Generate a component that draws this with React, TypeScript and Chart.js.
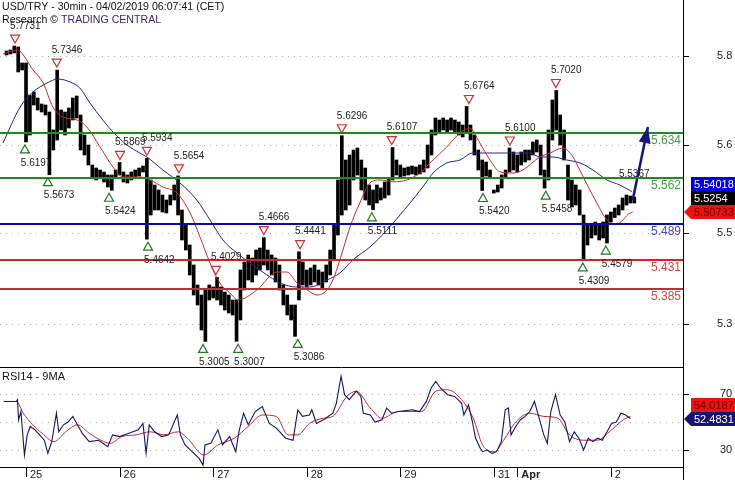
import React, { useEffect, useRef } from 'react';
import { Chart, registerables } from 'chart.js';

Chart.register(...registerables);

const FONT = '"Liberation Sans", Arial, sans-serif';
Chart.defaults.font.family = FONT;

// x unit: trading hours since 25 Mar 2019 00:00 (weekend removed)
const X_MIN = -6.67;
const X_MAX = 168.5;

// hourly price ranges [low, high], first bar at hour -5
const FIRST_HOUR = -5;
const priceRanges: [number, number][] = [
  [5.7588, 5.7652], [5.7604, 5.7668], [5.762, 5.7731], [5.7316, 5.7716], [5.7348, 5.746],
  [5.6197, 5.746], [5.6308, 5.6948], [5.6788, 5.6996], [5.6708, 5.69], [5.6676, 5.6804],
  [5.6628, 5.6788], [5.5673, 5.6676], [5.6068, 5.6388], [5.6228, 5.7346], [5.6388, 5.6708],
  [5.6308, 5.6676], [5.642, 5.674], [5.6548, 5.69], [5.658, 5.6932], [5.6068, 5.6628],
  [5.5988, 5.6308], [5.5828, 5.6148], [5.562, 5.5828], [5.5588, 5.578], [5.562, 5.5748],
  [5.5556, 5.5716], [5.5476, 5.5668], [5.5424, 5.5668], [5.5636, 5.5748], [5.5668, 5.5869],
  [5.5556, 5.5716], [5.554, 5.5668], [5.5588, 5.5716], [5.562, 5.5748], [5.5652, 5.578],
  [5.5716, 5.5812], [5.4642, 5.5934], [5.5028, 5.5588], [5.5108, 5.5508], [5.5108, 5.5428],
  [5.5076, 5.5348], [5.506, 5.5268], [5.5188, 5.5348], [5.5268, 5.5508], [5.5028, 5.5654],
  [5.4628, 5.5108], [5.4468, 5.4868], [5.4068, 5.4548], [5.3748, 5.4228], [5.3588, 5.3908],
  [5.3188, 5.3748], [5.3005, 5.3828], [5.3668, 5.3908], [5.37, 5.3876], [5.3668, 5.4029],
  [5.3588, 5.3876], [5.3508, 5.3796], [5.346, 5.3748], [5.3428, 5.3668], [5.3007, 5.3668],
  [5.3348, 5.4148], [5.3828, 5.4276], [5.3988, 5.4388], [5.3956, 5.434], [5.4068, 5.4468],
  [5.4148, 5.45], [5.4228, 5.4666], [5.4148, 5.4468], [5.4068, 5.4388], [5.3956, 5.434],
  [5.3828, 5.4228], [5.3588, 5.3908], [5.3428, 5.3748], [5.3348, 5.3588], [5.3086, 5.3588],
  [5.3668, 5.4441], [5.3908, 5.4276], [5.3876, 5.4148], [5.3908, 5.418], [5.3956, 5.4228],
  [5.3908, 5.4148], [5.386, 5.4116], [5.3956, 5.4228], [5.4068, 5.4468], [5.4308, 5.4868],
  [5.4708, 5.5588], [5.5028, 5.6296], [5.5108, 5.5908], [5.5188, 5.5988], [5.5588, 5.6068],
  [5.5668, 5.61], [5.5428, 5.5908], [5.5268, 5.578], [5.5188, 5.5508], [5.5111, 5.5428],
  [5.522, 5.5508], [5.5268, 5.546], [5.53, 5.5556], [5.5348, 5.562], [5.5588, 5.6107],
  [5.5668, 5.5908], [5.5636, 5.5828], [5.5652, 5.578], [5.5668, 5.5796], [5.5684, 5.5812],
  [5.5668, 5.5796], [5.5684, 5.5828], [5.5716, 5.5908], [5.578, 5.6148], [5.5988, 5.6388],
  [5.6308, 5.658], [5.6356, 5.6548], [5.6388, 5.658], [5.6356, 5.6548], [5.6388, 5.658],
  [5.634, 5.6548], [5.6308, 5.6516], [5.6276, 5.6468], [5.6356, 5.6764], [5.6228, 5.6468],
  [5.5988, 5.6308], [5.5748, 5.6068], [5.542, 5.5908], [5.5652, 5.5876], [5.5636, 5.5748],
  [5.538, 5.5428], [5.5396, 5.5508], [5.546, 5.5668], [5.562, 5.5748], [5.5716, 5.61],
  [5.5748, 5.6036], [5.5716, 5.5988], [5.5828, 5.6036], [5.5876, 5.6068], [5.5908, 5.6068],
  [5.5988, 5.6196], [5.6036, 5.6228], [5.5668, 5.6148], [5.5458, 5.5748], [5.5588, 5.6388],
  [5.6228, 5.6868], [5.6388, 5.702], [5.6148, 5.6628], [5.5908, 5.6388], [5.5268, 5.5828],
  [5.5156, 5.5588], [5.5188, 5.5508], [5.5028, 5.5428], [5.4309, 5.5028], [5.4548, 5.4868],
  [5.466, 5.4868], [5.4708, 5.4916], [5.4628, 5.4868], [5.466, 5.4916], [5.4579, 5.5028],
  [5.4916, 5.5076], [5.4988, 5.514], [5.5028, 5.5188], [5.5108, 5.53], [5.5188, 5.5348],
  [5.522, 5.5332], [5.522, 5.5316],
];

// moving averages [hour, price]
const redMa: [number, number][] = [
  [-5.9, 5.7604], [-2.3, 5.7668], [1.8, 5.7348], [4.4, 5.714], [6.9, 5.6756], [9.5, 5.6596],
  [13.1, 5.6548], [15.6, 5.6436], [19, 5.6116], [22.3, 5.5796], [24.9, 5.5636], [29.2, 5.5636],
  [31.8, 5.5588], [35.1, 5.5476], [38.7, 5.538], [42.1, 5.506], [44.6, 5.468], [47.2, 5.426],
  [49.7, 5.394], [52.3, 5.378], [54.4, 5.3668], [59.2, 5.3828], [64.4, 5.4116], [66.9, 5.4116],
  [69.5, 5.394], [72.1, 5.3828], [74.6, 5.3748], [77.2, 5.3828], [78.7, 5.3988], [80.5, 5.4308],
  [83.1, 5.4836], [85.6, 5.522], [88.2, 5.554], [90.8, 5.5588], [94.1, 5.556], [97.7, 5.5588],
  [101, 5.57], [104.4, 5.5908], [107.9, 5.6116], [111.3, 5.634], [113.8, 5.642], [116.4, 5.618],
  [119, 5.5908], [121.5, 5.572], [124.9, 5.57], [127.4, 5.5748], [131.8, 5.5956], [134.4, 5.602],
  [137.7, 5.61], [140.3, 5.5956], [142, 5.5748], [146.4, 5.522], [149, 5.4948], [151.5, 5.4884],
  [154.9, 5.506], [155.6, 5.50733],
];
const blueMa: [number, number][] = [
  [-5.9, 5.618], [-1.5, 5.6756], [1.8, 5.6996], [5.4, 5.714], [8.2, 5.7204], [11.3, 5.7156],
  [13.8, 5.706], [16.4, 5.682], [19.7, 5.6548], [22.3, 5.6356], [25.9, 5.6148], [29.2, 5.602],
  [31, 5.5956], [35.1, 5.5748], [39.5, 5.554], [43.8, 5.5268], [47.2, 5.4948], [50.5, 5.4628],
  [54.1, 5.442], [57.4, 5.426], [62.6, 5.4036], [65.1, 5.394], [69.5, 5.3876], [72.8, 5.3876],
  [77.2, 5.3988], [80.5, 5.41], [83.8, 5.4308], [88.2, 5.4516], [92.6, 5.4788], [95.9, 5.5028],
  [97.7, 5.516], [101.8, 5.548], [104.4, 5.57], [107.9, 5.586], [111.3, 5.5908], [114.6, 5.602],
  [119, 5.602], [123.3, 5.602], [129.2, 5.602], [131.8, 5.5956], [135.1, 5.5956], [138.7, 5.5908],
  [142.1, 5.586], [145.4, 5.5748], [149, 5.5588], [152.3, 5.5508], [155.4, 5.54018],
];

// forecast arrow [hour, price]
const arrowPath: [number, number][] = [[155.6, 5.5268], [159.5, 5.6436]];

// support / resistance levels
const levelValues = [5.634, 5.562, 5.489, 5.431, 5.385];
const levelLineColors = ['#1f8a1f', '#1f8a1f', '#0a0aa6', '#d42424', '#b43434'];
const levelTextColors = ['#4a9c4a', '#4a9c4a', '#4848c4', '#d04444', '#cc4a4a'];

// swing highs / lows [hour, price]
const swingHighs: [number, number][] = [
  [-2.8, 5.7731], [7.9, 5.7346], [24.1, 5.5869], [31, 5.5934], [39.2, 5.5654], [48.7, 5.4029],
  [61, 5.4666], [70.3, 5.4441], [81, 5.6296], [93.8, 5.6107], [113.6, 5.6764], [124.1, 5.61],
  [135.9, 5.702],
];
const swingLows: [number, number][] = [
  [-0.3, 5.6197], [5.6, 5.5673], [21.3, 5.5424], [31.3, 5.4642], [45.4, 5.3005], [54.4, 5.3007],
  [69.7, 5.3086], [88.7, 5.5111], [117.2, 5.542], [133.3, 5.5458], [142.8, 5.4309], [148.7, 5.4579],
];
const openHigh: [number, number] = [153.1, 5.5367];

const priceTicks = [5.3284, 5.474, 5.6148, 5.7572];
const PRICE_MIN = 5.2596;
const PRICE_MAX = 5.8468;

const dayTicks = [0, 24, 48, 72, 96, 120, 126, 150];
const dayLabels = ['25', '26', '27', '28', '29', '31', 'Apr', '2'];

const lastBlueMa = 5.54018;
const lastClose = 5.5254;
const lastRedMa = 5.50733;

// RSI14 [hour, value]
const rsiLine: [number, number][] = [
  [-5.7, 64.7], [-2.5, 64.7], [-2.2, 66], [-1.9, 51.6], [-1.3, 57.5], [-0.4, 26.4], [0.3, 40.8],
  [1.1, 46.8], [2.3, 44.4], [3.5, 40.8], [4.7, 37], [5.6, 27.6], [6.6, 36], [7.8, 56.3], [8.4, 43],
  [9.6, 48], [10.8, 50], [12, 54], [13.2, 48], [14.4, 42], [16.2, 36], [18.6, 37], [21, 32.4],
  [22.2, 40.8], [24, 39.6], [26.4, 42], [28.8, 44.4], [30, 49], [30.8, 27.6], [31.6, 48], [33, 43],
  [34.8, 39.6], [36.6, 40.8], [38.8, 55], [39.6, 40.8], [40.8, 33.6], [42.6, 28.8], [44.4, 24],
  [45.4, 19.2], [45.9, 33.6], [47.4, 34.8], [49.2, 44.4], [50.4, 33.6], [52.2, 39.6], [53.8, 28.8],
  [54.6, 43], [55.8, 56.3], [57, 48], [58.8, 57.5], [60.6, 61], [62.4, 49], [64.2, 45.6],
  [66.6, 38.4], [68.5, 37], [69.7, 58.7], [70.9, 54], [72.7, 55], [73.3, 58.7], [74.5, 49],
  [76.3, 51.6], [78.7, 56.3], [79.6, 63.5], [80.8, 82.7], [81.7, 69.5], [82.9, 66], [84.7, 72],
  [85.9, 68.3], [86.5, 56.3], [88.3, 55], [89.5, 50], [91.3, 51.6], [92.5, 60], [93.7, 56.3],
  [95.5, 57.5], [99.1, 58.7], [100.9, 57.5], [102.7, 64.7], [103.9, 74.3], [105.1, 79],
  [106.3, 74.3], [108.1, 69.5], [109.9, 68.3], [111.7, 63.5], [112.3, 55], [113.5, 62.3],
  [114.5, 50], [115.3, 38.4], [116.5, 31.2], [117.1, 28.8], [118.3, 30], [119.5, 27.6],
  [120.7, 28.8], [121.9, 36], [122.9, 58.7], [123.7, 60], [124.4, 40.8], [125.6, 46.8],
  [126.8, 51.6], [128, 54], [129.2, 57.5], [130.4, 64.7], [131.6, 52.7], [132.8, 40.8],
  [133.7, 34.8], [134.6, 57.5], [135.8, 69.5], [137, 55], [138.2, 50], [139.4, 36], [140.6, 43],
  [141.8, 38.4], [143, 30], [144.2, 38.4], [145.4, 36], [146.6, 38.4], [147.8, 37], [149, 43],
  [150.2, 49], [151.4, 50], [152.6, 56.3], [153.8, 55], [155, 52.4831],
];
// 9-period MA of RSI [hour, value]
const rsiMa: [number, number][] = [
  [-5.7, 64.7], [-2.5, 64.7], [-0.7, 56.3], [1.7, 48], [4.1, 42], [7.2, 36], [10.2, 43], [13.2, 48],
  [16.2, 42], [19.2, 37], [21.6, 34.8], [24.6, 39.6], [28.2, 40.8], [31.8, 43], [35.4, 40.8],
  [39, 43], [41.4, 38.4], [45.6, 26.4], [49.2, 33.6], [53.4, 38.4], [57, 46.8], [60.6, 55],
  [64.2, 54], [67.2, 40.8], [69.7, 40.8], [72.7, 49], [76.3, 52.7], [78.7, 54], [82.3, 68.3],
  [84.7, 72], [88.3, 60], [91.3, 52.7], [95.5, 57.5], [101.5, 57.5], [105.1, 72], [108.1, 73],
  [111.7, 66], [114.7, 52.7], [117.1, 33.6], [120.1, 28.8], [122.5, 37], [125.6, 50], [129.2, 56.3],
  [132.8, 54], [136.4, 52.7], [139.4, 40.8], [143, 37], [146.6, 37], [149.6, 43], [153.2, 51.6],
  [155, 54.0187],
];
const rsiTicks = [30, 50, 70];
const RSI_MIN = 17.86;
const RSI_MAX = 89.29;
const lastRsi = 52.4831;
const lastRsiMa = 54.0187;

const AXIS_X = 683;

function valueBox(ctx: any, cy: number, bg: string, fg: string, text: string, arrow: boolean) {
  ctx.save();
  ctx.fillStyle = bg;
  const top = Math.round(cy - 7);
  ctx.fillRect(691, top, 44, 14);
  if (arrow) {
    ctx.beginPath();
    ctx.moveTo(684, top + 7);
    ctx.lineTo(691, top);
    ctx.lineTo(691, top + 14);
    ctx.closePath();
    ctx.fill();
  }
  ctx.fillStyle = fg;
  ctx.font = `11px ${FONT}`;
  ctx.textAlign = 'left';
  ctx.textBaseline = 'middle';
  ctx.fillText(text, 694, top + 7.5);
  ctx.restore();
}

function dotted(ctx: any, x0: number, x1: number, y: number) {
  ctx.save();
  ctx.strokeStyle = '#a8a8a8';
  ctx.lineWidth = 1;
  ctx.setLineDash([1, 5]);
  ctx.beginPath();
  ctx.moveTo(x0, Math.round(y) + 0.5);
  ctx.lineTo(x1, Math.round(y) + 0.5);
  ctx.stroke();
  ctx.restore();
}

function noScalePadding(s: any) {
  s.paddingTop = 0;
  s.paddingBottom = 0;
  s.paddingLeft = 0;
  s.paddingRight = 0;
}

const mainDecor = {
  id: 'mainDecor',
  beforeDatasetsDraw(chart: any) {
    const { ctx, chartArea: a, scales } = chart;
    for (const v of priceTicks) dotted(ctx, a.left, a.right, scales.y.getPixelForValue(v));
  },
  afterDatasetsDraw(chart: any) {
    const { ctx, chartArea: a, scales } = chart;
    const xs = scales.x;
    const ys = scales.y;
    ctx.save();
    // levels
    levelValues.forEach((v, i) => {
      const py = Math.round(ys.getPixelForValue(v));
      ctx.strokeStyle = levelLineColors[i];
      ctx.lineWidth = 2;
      ctx.beginPath();
      ctx.moveTo(a.left, py);
      ctx.lineTo(a.right, py);
      ctx.stroke();
      ctx.fillStyle = levelTextColors[i];
      ctx.font = `12px ${FONT}`;
      ctx.textAlign = 'right';
      ctx.textBaseline = 'middle';
      ctx.fillText(v.toFixed(3), 681, py + 8);
    });
    // arrow head
    const x0 = xs.getPixelForValue(arrowPath[0][0]);
    const y0 = ys.getPixelForValue(arrowPath[0][1]);
    const x1 = xs.getPixelForValue(arrowPath[1][0]);
    const y1 = ys.getPixelForValue(arrowPath[1][1]);
    const len = Math.hypot(x1 - x0, y1 - y0);
    const ux = (x1 - x0) / len;
    const uy = (y1 - y0) / len;
    ctx.fillStyle = '#16167a';
    ctx.beginPath();
    ctx.moveTo(x1, y1);
    ctx.lineTo(x1 - ux * 16 - uy * 6, y1 - uy * 16 + ux * 6);
    ctx.lineTo(x1 - ux * 16 + uy * 6, y1 - uy * 16 - ux * 6);
    ctx.closePath();
    ctx.fill();
    // swing markers
    ctx.font = `10px ${FONT}`;
    ctx.textAlign = 'left';
    ctx.textBaseline = 'middle';
    ctx.lineWidth = 1.2;
    for (const [t, v] of swingHighs) {
      const px = xs.getPixelForValue(t);
      const py = ys.getPixelForValue(v);
      ctx.strokeStyle = '#cc3030';
      ctx.beginPath();
      ctx.moveTo(px - 4.5, py - 11);
      ctx.lineTo(px + 4.5, py - 11);
      ctx.lineTo(px, py - 3);
      ctx.closePath();
      ctx.stroke();
      ctx.fillStyle = '#222';
      ctx.fillText(v.toFixed(4), px - 5, py - 20);
    }
    for (const [t, v] of swingLows) {
      const px = xs.getPixelForValue(t);
      const py = ys.getPixelForValue(v);
      ctx.strokeStyle = '#1f7a1f';
      ctx.beginPath();
      ctx.moveTo(px - 4.5, py + 11);
      ctx.lineTo(px + 4.5, py + 11);
      ctx.lineTo(px, py + 3);
      ctx.closePath();
      ctx.stroke();
      ctx.fillStyle = '#222';
      ctx.fillText(v.toFixed(4), px - 4, py + 21);
    }
    {
      const px = xs.getPixelForValue(openHigh[0]);
      const py = ys.getPixelForValue(openHigh[1]);
      ctx.fillStyle = '#222';
      ctx.fillText(openHigh[1].toFixed(4), px - 4, py - 20);
    }
    ctx.restore();
  },
  afterDraw(chart: any) {
    const { ctx, scales } = chart;
    const ys = scales.y;
    ctx.save();
    // axis line + tick marks
    ctx.strokeStyle = '#000';
    ctx.lineWidth = 1;
    ctx.beginPath();
    ctx.moveTo(AXIS_X + 0.5, 0);
    ctx.lineTo(AXIS_X + 0.5, chart.height);
    for (const v of priceTicks) {
      const py = Math.round(ys.getPixelForValue(v)) + 0.5;
      ctx.moveTo(AXIS_X, py);
      ctx.lineTo(AXIS_X + 6, py);
    }
    ctx.stroke();
    // title
    ctx.textAlign = 'left';
    ctx.textBaseline = 'middle';
    ctx.font = `10.6px ${FONT}`;
    ctx.fillStyle = '#111';
    ctx.fillText('USD/TRY - 30min - 04/02/2019 06:07:41 (CET)', 2, 7);
    const lead = 'Research © ';
    ctx.fillText(lead, 2, 20);
    ctx.fillStyle = '#3d2868';
    ctx.fillText('TRADING CENTRAL', 2 + ctx.measureText(lead).width, 20);
    ctx.restore();
    // value boxes
    const redY = ys.getPixelForValue(lastRedMa);
    valueBox(ctx, redY, '#ee1111', '#700000', String(lastRedMa), true);
    valueBox(ctx, redY - 14, '#000000', '#ffffff', String(lastClose), false);
    valueBox(ctx, redY - 28, '#0000dd', '#ffffff', String(lastBlueMa), false);
  },
};

const rsiDecor = {
  id: 'rsiDecor',
  beforeDatasetsDraw(chart: any) {
    const { ctx, chartArea: a, scales } = chart;
    for (const v of rsiTicks) dotted(ctx, a.left, a.right, scales.y.getPixelForValue(v));
  },
  afterDraw(chart: any) {
    const { ctx, chartArea: a, scales } = chart;
    const ys = scales.y;
    const xs = scales.x;
    ctx.save();
    ctx.strokeStyle = '#000';
    ctx.lineWidth = 1;
    ctx.beginPath();
    ctx.moveTo(0, 0.5);
    ctx.lineTo(AXIS_X, 0.5);
    ctx.moveTo(0, Math.round(a.bottom) + 0.5);
    ctx.lineTo(AXIS_X, Math.round(a.bottom) + 0.5);
    ctx.moveTo(AXIS_X + 0.5, 0);
    ctx.lineTo(AXIS_X + 0.5, chart.height);
    for (const v of [30, 70]) {
      const py = Math.round(ys.getPixelForValue(v)) + 0.5;
      ctx.moveTo(AXIS_X, py);
      ctx.lineTo(AXIS_X + 6, py);
    }
    for (const t of dayTicks) {
      const px = Math.round(xs.getPixelForValue(t)) + 0.5;
      ctx.moveTo(px, a.bottom);
      ctx.lineTo(px, a.bottom + 10);
    }
    ctx.stroke();
    ctx.fillStyle = '#111';
    ctx.font = `11px ${FONT}`;
    ctx.textAlign = 'left';
    ctx.textBaseline = 'middle';
    ctx.fillText('RSI14 - 9MA', 2, 10);
    ctx.restore();
    const blueY = ys.getPixelForValue(lastRsi);
    valueBox(ctx, blueY, '#141470', '#ffffff', String(lastRsi), true);
    valueBox(ctx, blueY - 14, '#ee1111', '#700000', String(lastRsiMa), false);
  },
};

export default function App() {
  const mainRef = useRef<HTMLCanvasElement>(null);
  const rsiRef = useRef<HTMLCanvasElement>(null);

  useEffect(() => {
    const commonX = {
      type: 'linear' as const,
      min: X_MIN,
      max: X_MAX,
      offset: false,
      grid: { display: false, offset: false, drawTicks: false },
      border: { display: false },
    };

    const main = new Chart(mainRef.current as HTMLCanvasElement, {
      type: 'bar',
      data: {
        datasets: [
          {
            type: 'line',
            data: redMa.map(([x, y]) => ({ x, y })),
            borderColor: '#c42a2a',
            borderWidth: 1,
            pointRadius: 0,
            cubicInterpolationMode: 'monotone',
            order: 1,
          } as any,
          {
            type: 'line',
            data: blueMa.map(([x, y]) => ({ x, y })),
            borderColor: '#24248c',
            borderWidth: 1,
            pointRadius: 0,
            cubicInterpolationMode: 'monotone',
            order: 1,
          } as any,
          {
            type: 'line',
            data: arrowPath.map(([x, y]) => ({ x, y })),
            borderColor: '#16167a',
            borderWidth: 2.5,
            pointRadius: 0,
            order: 0,
          } as any,
          {
            type: 'bar',
            data: priceRanges.map(([lo, hi], i) => ({ x: FIRST_HOUR + i, y: [lo, hi] })),
            backgroundColor: '#000000',
            borderWidth: 0,
            barThickness: 3,
            minBarLength: 2,
            order: 2,
          } as any,
        ],
      },
      options: {
        responsive: false,
        animation: false,
        devicePixelRatio: 1,
        events: [],
        layout: { padding: 0, autoPadding: false },
        plugins: { legend: { display: false }, tooltip: { enabled: false } },
        scales: {
          x: { ...commonX, display: false, afterFit: noScalePadding },
          y: {
            type: 'linear',
            position: 'right',
            min: PRICE_MIN,
            max: PRICE_MAX,
            beginAtZero: false,
            grid: { display: false, drawTicks: false },
            border: { display: false },
            afterBuildTicks: (s: any) => {
              s.ticks = priceTicks.map((value) => ({ value }));
            },
            afterFit: (s: any) => {
              s.width = 735 - AXIS_X;
              noScalePadding(s);
            },
            ticks: {
              padding: 34,
              color: '#222',
              font: { size: 11, family: FONT },
              callback: (v: any) => Number(v).toFixed(1),
            },
          },
        },
      } as any,
      plugins: [mainDecor],
    });

    const rsi = new Chart(rsiRef.current as HTMLCanvasElement, {
      type: 'line',
      data: {
        datasets: [
          {
            data: rsiLine.map(([x, y]) => ({ x, y })),
            borderColor: '#141464',
            borderWidth: 1.1,
            pointRadius: 0,
            tension: 0,
          },
          {
            data: rsiMa.map(([x, y]) => ({ x, y })),
            borderColor: '#c42a2a',
            borderWidth: 1,
            pointRadius: 0,
            cubicInterpolationMode: 'monotone',
          },
        ],
      },
      options: {
        responsive: false,
        animation: false,
        devicePixelRatio: 1,
        events: [],
        layout: { padding: 0, autoPadding: false },
        plugins: { legend: { display: false }, tooltip: { enabled: false } },
        scales: {
          x: {
            ...commonX,
            display: true,
            position: 'bottom',
            afterBuildTicks: (s: any) => {
              s.ticks = dayTicks.map((value) => ({ value }));
            },
            afterFit: (s: any) => {
              s.height = 13;
              noScalePadding(s);
            },
            ticks: {
              autoSkip: false,
              maxRotation: 0,
              align: 'start',
              labelOffset: 4,
              padding: 1,
              color: '#222',
              font: (c: any) => ({
                size: 11,
                family: FONT,
                weight: c.tick && c.tick.value === 126 ? 'bold' : 'normal',
              }),
              callback: (v: any) => {
                const i = dayTicks.indexOf(Number(v));
                return i >= 0 ? dayLabels[i] : '';
              },
            },
          },
          y: {
            type: 'linear',
            position: 'right',
            min: RSI_MIN,
            max: RSI_MAX,
            grid: { display: false, drawTicks: false },
            border: { display: false },
            afterBuildTicks: (s: any) => {
              s.ticks = rsiTicks.map((value) => ({ value }));
            },
            afterFit: (s: any) => {
              s.width = 735 - AXIS_X;
              noScalePadding(s);
            },
            ticks: {
              padding: 37,
              color: '#222',
              font: { size: 11, family: FONT },
              callback: (v: any) => (Number(v) === 50 ? '' : String(v)),
            },
          },
        },
      } as any,
      plugins: [rsiDecor],
    });

    return () => {
      main.destroy();
      rsi.destroy();
    };
  }, []);

  return (
    <div style={{ position: 'absolute', left: 0, top: 0, width: 735, height: 480, background: '#fff' }}>
      <canvas
        ref={mainRef}
        width={735}
        height={367}
        style={{ position: 'absolute', left: 0, top: 0, width: 735, height: 367, display: 'block' }}
      />
      <canvas
        ref={rsiRef}
        width={735}
        height={113}
        style={{ position: 'absolute', left: 0, top: 367, width: 735, height: 113, display: 'block' }}
      />
    </div>
  );
}
